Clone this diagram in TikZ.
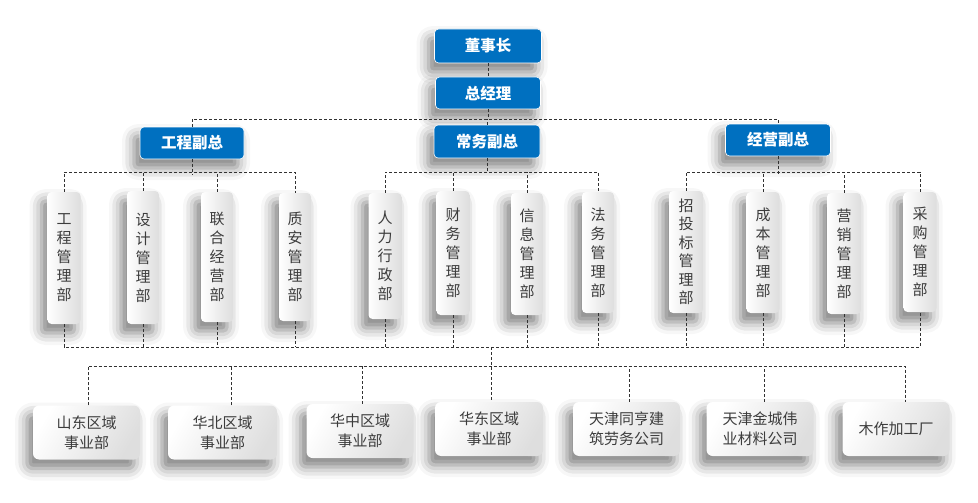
\documentclass[tikz,border=0pt]{standalone}
\usepackage{fontspec}
\newfontfamily\cjk{Noto Sans CJK SC}
\usetikzlibrary{shadows.blur,calc}
\definecolor{bossblue}{RGB}{0,112,192}
\definecolor{txtgray}{RGB}{60,60,60}
\definecolor{lngray}{RGB}{50,50,50}
\begin{document}
\begin{tikzpicture}[x=1pt,y=-1pt,
  shad/.style={blur shadow={shadow xshift=-6pt,shadow yshift=-9pt,shadow blur radius=12pt,shadow opacity=50}},
  bluebox/.style={shad,fill=bossblue,draw=white,line width=0.6pt,rounded corners=4pt,text=white,
    font=\cjk\bfseries\fontsize{15.5}{17}\selectfont,inner sep=0pt},
  deptbox/.style={shad,rounded corners=4pt,left color=white,right color=black!13,draw=none,
    text=txtgray,font=\cjk\fontsize{15}{19}\selectfont,align=center,inner sep=0pt},
  unitbox/.style={shad,rounded corners=6pt,shading=axis,left color=white,right color=black!13,shading angle=60,draw=none,
    text=txtgray,font=\cjk\fontsize{15}{20}\selectfont,align=center,inner sep=0pt,
    minimum width=107pt,minimum height=54pt},
  conn/.style={draw=lngray,line width=0.8pt,dash pattern=on 3pt off 2pt}
]
\useasboundingbox (0,0) rectangle (978,503);
% top
\node[bluebox,minimum width=107pt,minimum height=34pt] (ceo) at (488,46) {董事长};
\node[bluebox,minimum width=105pt,minimum height=32pt] (gm) at (488,93) {总经理};
\node[bluebox,minimum width=104pt,minimum height=32pt] (vp1) at (192,143) {工程副总};
\node[bluebox,minimum width=106pt,minimum height=33pt] (vp2) at (487,141.5) {常务副总};
\node[bluebox,minimum width=105pt,minimum height=32pt] (vp3) at (778,140) {经营副总};
% departments
\node[deptbox,minimum width=33pt,minimum height=132pt] (d1) at (64,258) {工\\程\\管\\理\\部};
\node[deptbox,minimum width=32pt,minimum height=133pt] (d2) at (143,257.5) {设\\计\\管\\理\\部};
\node[deptbox,minimum width=32pt,minimum height=130pt] (d3) at (217,257) {联\\合\\经\\营\\部};
\node[deptbox,minimum width=32pt,minimum height=128pt] (d4) at (295,257) {质\\安\\管\\理\\部};
\node[deptbox,minimum width=33pt,minimum height=126pt] (d5) at (385,256) {人\\力\\行\\政\\部};
\node[deptbox,minimum width=33pt,minimum height=124pt] (d6) at (453,253) {财\\务\\管\\理\\部};
\node[deptbox,minimum width=32pt,minimum height=122pt] (d7) at (527,254) {信\\息\\管\\理\\部};
\node[deptbox,minimum width=32pt,minimum height=121pt] (d8) at (598,252.5) {法\\务\\管\\理\\部};
\node[deptbox,minimum width=34pt,minimum height=122pt,font=\cjk\fontsize{15}{18.5}\selectfont] (d9) at (686,252) {招\\投\\标\\管\\理\\部};
\node[deptbox,minimum width=33pt,minimum height=121pt] (d10) at (763,252.5) {成\\本\\管\\理\\部};
\node[deptbox,minimum width=34pt,minimum height=121pt] (d11) at (844,253.5) {营\\销\\管\\理\\部};
\node[deptbox,minimum width=33pt,minimum height=120pt] (d12) at (920,252) {采\\购\\管\\理\\部};
% units
\node[unitbox] (b1) at (86.5,432.5) {山东区域\\事业部};
\node[unitbox,minimum width=109pt] (b2) at (222.5,432.5) {华北区域\\事业部};
\node[unitbox] (b3) at (360,431) {华中区域\\事业部};
\node[unitbox,minimum width=108pt] (b4) at (489,429) {华东区域\\事业部};
\node[unitbox] (b5) at (626.5,429) {天津同亨建\\筑劳务公司};
\node[unitbox] (b6) at (760,429) {天津金城伟\\业材料公司};
\node[unitbox] (b7) at (896,429) {木作加工厂};
% buses
\coordinate (busA) at (0,119);
\coordinate (busB) at (0,172);
\coordinate (busC) at (0,347);
\coordinate (busD) at (0,366);
\coordinate (hub) at (491,347);
% connectors top
\draw[conn] (ceo) -- (gm);
\draw[conn] (gm.south) -- (gm.south |- busA);
\draw[conn] (vp1.north) -- (vp1.north |- busA) -- (vp3.north |- busA) -- (vp3.north);
\draw[conn] (vp2.north) -- (vp2.north |- busA);
% group buses
\draw[conn] (vp1.south) -- ([yshift=-3pt]vp1.south |- busB);
\draw[conn] (d1.north) -- (d1.north |- busB) -- (d4.north |- busB) -- (d4.north);
\draw[conn] (d2.north) -- (d2.north |- busB);
\draw[conn] (d3.north) -- (d3.north |- busB);
\draw[conn] (vp2.south) -- (vp2.south |- busB);
\draw[conn] (d5.north) -- (d5.north |- busB) -- (d8.north |- busB) -- (d8.north);
\draw[conn] (d6.north) -- (d6.north |- busB);
\draw[conn] (d7.north) -- (d7.north |- busB);
\draw[conn] (vp3.south) -- ([yshift=-3pt]vp3.south |- busB);
\draw[conn] (d9.north) -- (d9.north |- busB) -- (d12.north |- busB) -- (d12.north);
\draw[conn] (d10.north) -- (d10.north |- busB);
\draw[conn] (d11.north) -- (d11.north |- busB);
% bottom bus
\draw[conn] (d1.south) -- (d1.south |- busC) -- (d12.south |- busC) -- (d12.south);
\foreach \i in {2,...,11}{\draw[conn] (d\i.south) -- (d\i.south |- busC);}
\draw[conn] (hub) -- ([xshift=2pt]b4.north);
\draw[conn] ([xshift=1.5pt]b1.north) -- ([xshift=1.5pt]b1.north |- busD) -- ([xshift=9pt]b7.north |- busD) -- ([xshift=9pt]b7.north);
\draw[conn] ([xshift=8.5pt]b2.north) -- ([xshift=8.5pt]b2.north |- busD);
\draw[conn] ([xshift=2pt]b3.north) -- ([xshift=2pt]b3.north |- busD);
\draw[conn] ([xshift=2.5pt]b5.north) -- ([xshift=2.5pt]b5.north |- busD);
\draw[conn] ([xshift=4pt]b6.north) -- ([xshift=4pt]b6.north |- busD);
\end{tikzpicture}
\end{document}
